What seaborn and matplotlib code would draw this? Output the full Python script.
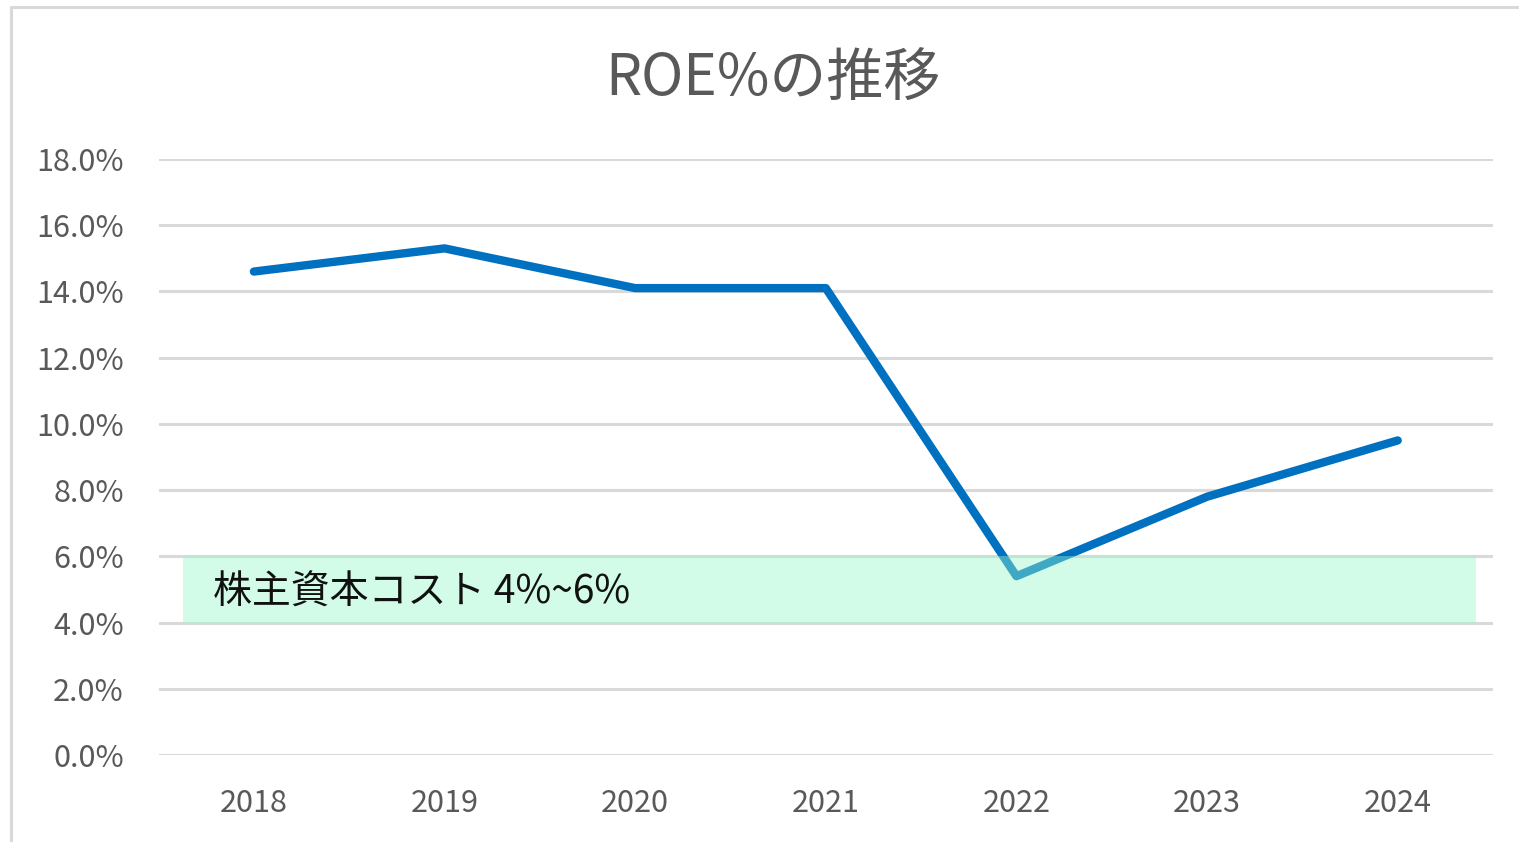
import pandas as pd
import seaborn as sns
import matplotlib
matplotlib.use('Agg')
import matplotlib.pyplot as plt
from matplotlib.lines import Line2D

# データ
years = ['2018', '2019', '2020', '2021', '2022', '2023', '2024']
roe = [14.6, 15.3, 14.1, 14.1, 5.4, 7.8, 9.5]
cost_low = 4.0
cost_high = 6.0
band_label = '株主資本コスト 4%~6%'
title = 'ROE%の推移'

df = pd.DataFrame({'年度': years, 'ROE': roe})

sns.set_style('white')
plt.rcParams['font.family'] = ['Noto Sans CJK JP', 'DejaVu Sans']

fig = plt.figure(figsize=(15.19, 8.42), dpi=100)
ax = fig.add_axes([0.1044, 0.1033, 0.8785, 0.7079])

sns.lineplot(data=df, x='年度', y='ROE', ax=ax, color='#0070C0', linewidth=6,
             solid_capstyle='round', zorder=3)

# 株主資本コストの帯
ax.fill_between([-0.37, 6.41], cost_low, cost_high, color='#98f8ca', alpha=0.42,
                linewidth=0, zorder=4)
ax.text(-0.215, (cost_low + cost_high) / 2 - 0.1, band_label, fontsize=28, color='#111111',
        va='center', ha='left', zorder=5)

ax.set_xlim(-0.5, 6.5)
ax.set_ylim(0, 18)
ax.set_yticks(range(0, 19, 2))
ax.set_yticklabels([f'{v:.1f}%' for v in range(0, 19, 2)])
ax.grid(axis='y', color='#d9d9d9', linewidth=2.2, zorder=0)
ax.set_axisbelow(True)
ax.tick_params(axis='both', length=0, labelsize=22, labelcolor='#595959')
ax.tick_params(axis='y', pad=25)
ax.tick_params(axis='x', pad=24)
for s in ax.spines.values():
    s.set_visible(False)
ax.set_xlabel('')
ax.set_ylabel('')

fig.text(0.509, 0.906, title, fontsize=41, color='#595959', ha='center', va='center')

# 外枠
fig.add_artist(Line2D([11 / 1519, 11 / 1519], [0, 1 - 7 / 842], color='#d9d9d9', linewidth=2.2))
fig.add_artist(Line2D([11 / 1519, 1], [1 - 7 / 842, 1 - 7 / 842], color='#d9d9d9', linewidth=2.2))

fig.savefig('out.png', dpi=100)
